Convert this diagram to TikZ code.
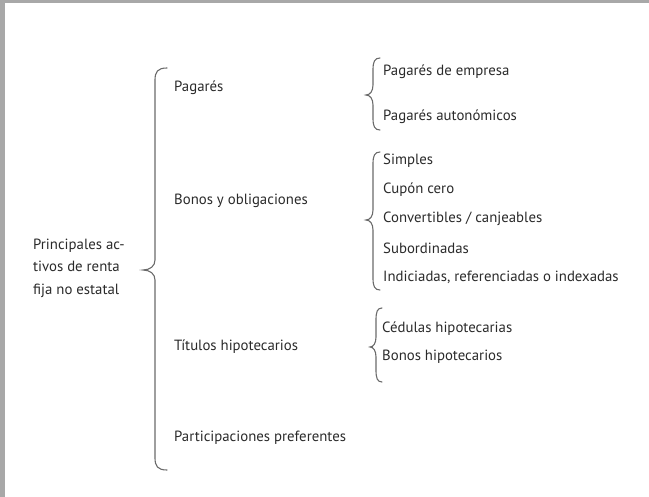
\documentclass[tikz,border=0pt]{standalone}
\usepackage{fontspec}
\setmainfont{PT Sans}
\definecolor{txt}{HTML}{2A2A2A}
\definecolor{brc}{HTML}{6A6A6A}
\definecolor{frame}{HTML}{A8A8A8}
\newcommand{\curlybr}[5]{% x, top, tip y, bottom, curl width
  \draw[bracestyle] (#1+#5,#2) .. controls (#1+0.2*#5,#2) and (#1,#2+4) .. (#1,#2+12)
    -- (#1,#3-10) .. controls (#1,#3-4) and (#1-0.4*#5,#3) .. (#1-#5,#3)
    .. controls (#1-0.4*#5,#3) and (#1,#3+4) .. (#1,#3+10)
    -- (#1,#4-12) .. controls (#1,#4-4) and (#1+0.2*#5,#4) .. (#1+#5,#4);}
\begin{document}
\begin{tikzpicture}[x=1pt,y=-1pt,
  bracestyle/.style={draw=brc,line width=1.1pt,line cap=round},
  lbl/.style={anchor=west,inner sep=0pt,text=txt,font=\fontsize{14.8}{22.5}\selectfont}]
\useasboundingbox (0,0) rectangle (649,497);
\fill[frame] (0,0) rectangle (649,3);
\fill[frame] (0,0) rectangle (5,497);
% root
\node[lbl,align=left] (root) at (33,268) {Principales ac-\\tivos de renta\\fija no estatal};
\curlybr{155}{68}{270}{470}{12}
% level 1
\node[lbl] (pag) at (174,88) {Pagarés};
\node[lbl] (bon) at (174,201) {Bonos y obligaciones};
\node[lbl] (tit) at (174,347) {Títulos hipotecarios};
\node[lbl] (par) at (174,438) {Participaciones preferentes};
% level 2: pagarés
\curlybr{373}{58}{95}{130}{7}
\node[lbl] (pe) at (383,72) {Pagarés de empresa};
\node[lbl] (pa) at (383,117) {Pagarés autonómicos};
% level 2: bonos
\curlybr{373}{152}{220}{290}{7}
\node[lbl] (b1) at (383,161) {Simples};
\node[lbl] (b2) at (383,190) {Cupón cero};
\node[lbl] (b3) at (383,219) {Convertibles / canjeables};
\node[lbl] (b4) at (383,248) {Subordinadas};
\node[lbl] (b5) at (383,277) {Indiciadas, referenciadas o indexadas};
% level 2: títulos
\curlybr{376}{308}{347}{382}{6}
\node[lbl] (t1) at (382,329) {Cédulas hipotecarias};
\node[lbl] (t2) at (382,357) {Bonos hipotecarios};
\end{tikzpicture}
\end{document}
